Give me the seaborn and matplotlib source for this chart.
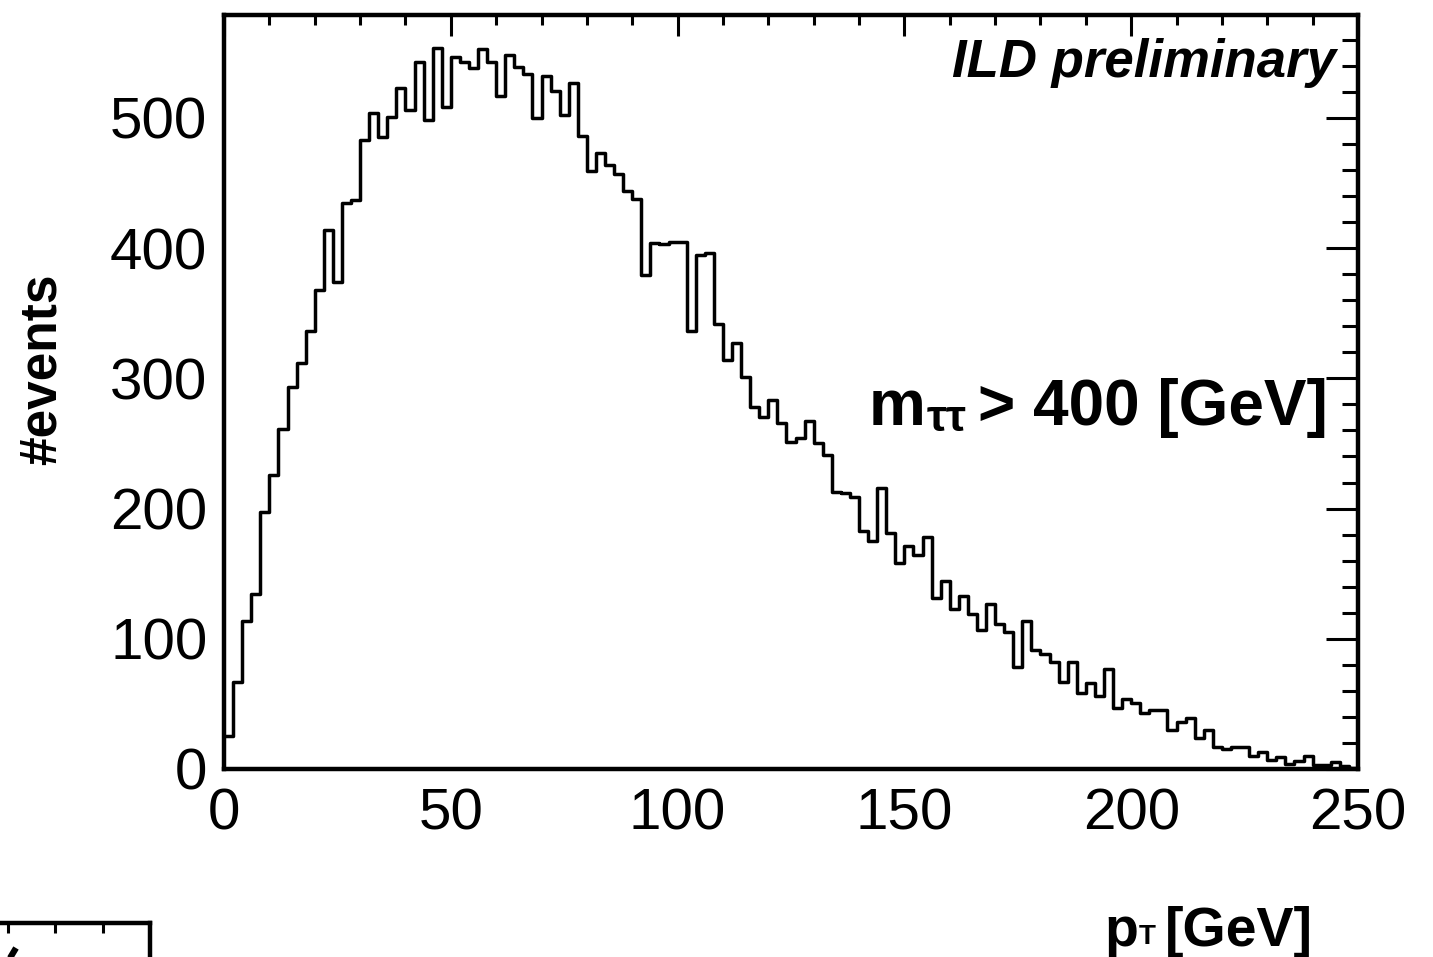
import numpy as np
import pandas as pd
import matplotlib
matplotlib.use("Agg")
import matplotlib.pyplot as plt
from matplotlib.lines import Line2D
import seaborn as sns
from matplotlib.ticker import MultipleLocator

# ---- data: events per 2 GeV bin of pT, 0..250 GeV ----
bin_width = 2.0
x_min, x_max = 0.0, 250.0
counts = [
    25, 67, 114, 134, 197, 226, 261, 293, 312, 336,
    368, 414, 374, 435, 437, 483, 504, 485, 501, 523,
    506, 543, 498, 554, 508, 547, 543, 538, 553, 543,
    517, 548, 539, 534, 500, 532, 521, 502, 527, 486,
    459, 473, 464, 457, 444, 438, 379, 404, 403, 405,
    405, 336, 395, 396, 342, 314, 327, 301, 278, 270,
    283, 266, 251, 254, 267, 250, 241, 213, 212, 209,
    183, 175, 216, 181, 158, 171, 164, 178, 131, 144,
    123, 133, 119, 107, 127, 111, 105, 78, 114, 91,
    88, 82, 67, 82, 58, 66, 56, 77, 47, 54,
    51, 43, 45, 45, 30, 36, 39, 24, 30, 17,
    15, 17, 17, 10, 13, 7, 9, 4, 6, 10,
    3, 3, 5, 2, 1,
]
x_ticks = [0, 50, 100, 150, 200, 250]
y_ticks = [0, 100, 200, 300, 400, 500]
y_top = 579

edges = np.linspace(x_min, x_max, len(counts) + 1)
centers = 0.5 * (edges[:-1] + edges[1:])
df = pd.DataFrame({"pt": centers, "n": counts})

W, H = 1433, 957
sns.set_theme(style="white")
plt.rcParams["font.family"] = ["Liberation Sans", "DejaVu Sans"]
plt.rcParams["text.color"] = "black"

fig = plt.figure(figsize=(W / 100, H / 100), dpi=100)
fig.patch.set_facecolor("white")


def fx(px):
    return px / W


def fy(py):
    return 1 - py / H


ax = fig.add_axes([fx(224), fy(769), (1358 - 224) / W, (769 - 15) / H])
sns.histplot(data=df, x="pt", weights="n", binwidth=bin_width,
             binrange=(x_min, x_max), element="step",
             fill=False, color="black", linewidth=2.5, ax=ax)

ax.set_xlim(x_min, x_max)
ax.set_ylim(0, y_top)
ax.set_xticks(x_ticks)
ax.set_yticks(y_ticks)
ax.xaxis.set_minor_locator(MultipleLocator(10))
ax.yaxis.set_minor_locator(MultipleLocator(20))
ax.set_xlabel("")
ax.set_ylabel("")
for s in ax.spines.values():
    s.set_visible(True)
    s.set_linewidth(3.2)
    s.set_color("black")
ax.tick_params(which="both", direction="in", top=True, right=True,
               color="black", width=2.2, labelcolor="black")
ax.tick_params(axis="x", which="major", length=15, pad=13, labelsize=42)
ax.tick_params(axis="x", which="minor", length=7.5)
ax.tick_params(axis="y", which="major", length=23, pad=12, labelsize=42)
ax.tick_params(axis="y", which="minor", length=11.5)
ax.set_facecolor("white")

# y label
fig.text(fx(42), fy(369), "#events", rotation=90, ha="center", va="center",
         fontsize=37, fontweight="bold", color="black")

# ILD preliminary
fig.text(fx(1336), fy(77), "ILD preliminary", ha="right", va="baseline",
         fontsize=38, fontweight="heavy", fontstyle="italic", color="black")

# m_tautau > 400 [GeV]
fig.canvas.draw()
r = fig.canvas.get_renderer()
FS = 46
t1 = fig.text(fx(869), fy(425), "m", ha="left", va="baseline",
              fontsize=FS, fontweight="bold", color="black")
bb1 = t1.get_window_extent(r)
t2 = fig.text((bb1.x1 + 1) / W, fy(431), "ττ", ha="left", va="baseline",
              fontsize=FS * 0.7, fontweight="bold", color="black")
bb2 = t2.get_window_extent(r)
fig.text(fx(1328), fy(425), "> 400 [GeV]", ha="right", va="baseline",
         fontsize=FS, fontweight="bold", color="black")

# x label p_T [GeV]
FX = 40
p1 = fig.text(fx(1104), fy(946), "p", ha="left", va="baseline",
              fontsize=FX, fontweight="bold", color="black")
bp = p1.get_window_extent(r)
p2 = fig.text((bp.x1 + 1) / W, fy(944), "T", ha="left", va="baseline",
              fontsize=FX * 0.5, fontweight="bold", color="black")
fig.text(fx(1313), fy(946), "[GeV]", ha="right", va="baseline",
         fontsize=FX, fontweight="bold", color="black")

# partial frame of the next panel at the bottom-left corner
ax2 = fig.add_axes([fx(-50), fy(1100), 200 / W, (1100 - 923) / H])
ax2.set_xlim(-50, 150)
ax2.set_ylim(0, 1)
ax2.set_xticks([8, 55, 103])
ax2.set_yticks([])
ax2.tick_params(axis="x", direction="in", top=True, bottom=False,
                labelbottom=False, length=7.5, width=2.2, color="black")
for k, s in ax2.spines.items():
    s.set_linewidth(3.2)
    s.set_color("black")
ax2.spines["bottom"].set_visible(False)
ax2.spines["left"].set_visible(False)
# fragment of the next panel's italic label, cut by the figure edge
fig.add_artist(Line2D([fx(10), fx(16)], [fy(958), fy(948)], color="black",
                      linewidth=4.5, solid_capstyle="butt",
                      transform=fig.transFigure))

fig.savefig("out.png", dpi=100, facecolor="white")
